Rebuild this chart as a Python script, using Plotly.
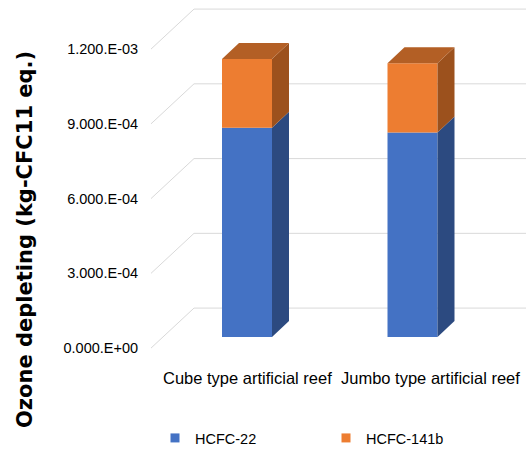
import plotly.graph_objects as go

# Ozone depleting potential per reef type (kg-CFC11 eq.)
categories = ["Cube type artificial reef", "Jumbo type artificial reef"]
series_names = ["HCFC-22", "HCFC-141b"]
hcfc22 = [8.40e-4, 8.21e-4]
hcfc141b = [2.76e-4, 2.78e-4]
tick_vals = [0, 3e-4, 6e-4, 9e-4, 1.2e-3]
tick_text = ["0.000.E+00", "3.000.E-04", "6.000.E-04", "9.000.E-04", "1.200.E-03"]

# colours of the front / side / top faces
BLUE, BLUE_SIDE = "#4472C4", "#2C4A80"
ORANGE, ORANGE_SIDE, ORANGE_TOP = "#ED7D31", "#9C511D", "#B35F25"
GRID = "#D9D9D9"

W, H = 526, 449
M_LEFT = 143
X_RANGE = [-0.6284, 1.6858]
Y_RANGE = [-4.05e-4, 1.397e-3]
px_x = (W - M_LEFT) / (X_RANGE[1] - X_RANGE[0])
px_y = H / (Y_RANGE[1] - Y_RANGE[0])


def ux(p):
    return p / px_x


def uy(p):
    return p / px_y


# pseudo-3D geometry (in screen pixels, converted to axis units)
BAR_W = ux(50)
BAR_LIFT = uy(11)
BAR_DX, BAR_DY = ux(17), uy(16)
WALL_X0 = ux(-96)
WALL_DX, WALL_DY = ux(43), uy(40)

FONT = "Liberation Sans, Arial, sans-serif"

fig = go.Figure()

# side wall + back wall gridlines, kept underneath the bars
for v in tick_vals:
    path = (f"M {WALL_X0},{v} L {WALL_X0 + WALL_DX},{v + WALL_DY} "
            f"L {X_RANGE[1]},{v + WALL_DY}")
    fig.add_shape(type="path", path=path, xref="x", yref="y", layer="below",
                  line=dict(color=GRID, width=1))

# front faces of the stacked columns
xs = list(range(len(categories)))
fig.add_trace(go.Bar(x=xs, y=hcfc22, base=[BAR_LIFT] * len(categories), width=BAR_W,
                     marker=dict(color=BLUE, line=dict(width=0)), name=series_names[0],
                     showlegend=False))
fig.add_trace(go.Bar(x=xs, y=hcfc141b, base=[BAR_LIFT + a for a in hcfc22], width=BAR_W,
                     marker=dict(color=ORANGE, line=dict(width=0)), name=series_names[1],
                     showlegend=False))


def face(xs_, ys_, color):
    fig.add_trace(go.Scatter(x=xs_, y=ys_, mode="lines", fill="toself", fillcolor=color,
                             line=dict(width=0, color=color), hoverinfo="skip",
                             showlegend=False))


# side and top faces
for i, (a, b) in enumerate(zip(hcfc22, hcfc141b)):
    xr = i + BAR_W / 2
    xl = i - BAR_W / 2
    y0 = BAR_LIFT
    y1 = y0 + a
    y2 = y1 + b
    face([xr, xr + BAR_DX, xr + BAR_DX, xr, xr], [y0, y0 + BAR_DY, y1 + BAR_DY, y1, y0], BLUE_SIDE)
    face([xr, xr + BAR_DX, xr + BAR_DX, xr, xr], [y1, y1 + BAR_DY, y2 + BAR_DY, y2, y1], ORANGE_SIDE)
    face([xl, xl + BAR_DX, xr + BAR_DX, xr, xl], [y2, y2 + BAR_DY, y2 + BAR_DY, y2, y2], ORANGE_TOP)

# legend entries with small square keys
for name, color in zip(series_names, [BLUE, ORANGE]):
    fig.add_trace(go.Scatter(x=[None], y=[None], mode="markers", name=name,
                             marker=dict(symbol="square", size=9, color=color)))

# category labels below the bars
label_y = Y_RANGE[1] - 378 / px_y
for i, (c, shift) in enumerate(zip(categories, [0, 18])):
    fig.add_annotation(x=i, y=label_y, text=c, showarrow=False, xshift=shift,
                       font=dict(family=FONT, size=16.5, color="#000000"))

# axis title
fig.add_annotation(xref="paper", yref="paper", x=(11 - M_LEFT) / (W - M_LEFT),
                   y=1 - 240 / H, text="<b>Ozone depleting (kg-CFC11 eq.)</b>",
                   textangle=-90, showarrow=False,
                   font=dict(family="DejaVu Sans, sans-serif", size=21, color="#000000"))

fig.update_layout(
    width=W, height=H,
    margin=dict(l=M_LEFT, r=0, t=0, b=0, autoexpand=False),
    paper_bgcolor="white", plot_bgcolor="white",
    barmode="overlay",
    xaxis=dict(range=X_RANGE, showgrid=False, zeroline=False, showline=False,
               showticklabels=False, fixedrange=True),
    yaxis=dict(range=Y_RANGE, tickvals=tick_vals, ticktext=tick_text,
               showgrid=False, zeroline=False, showline=False,
               ticks="outside", ticklen=1, tickcolor="rgba(0,0,0,0)",
               tickfont=dict(family=FONT, size=14.5, color="#000000"), fixedrange=True),
    legend=dict(orientation="h", x=(155 - M_LEFT) / (W - M_LEFT), y=1 - 438 / H,
                xanchor="left", yanchor="middle",
                entrywidth=126, entrywidthmode="pixels",
                font=dict(family=FONT, size=14.5, color="#000000"),
                bgcolor="rgba(0,0,0,0)"),
    showlegend=True,
)

fig.write_html("out.html")
